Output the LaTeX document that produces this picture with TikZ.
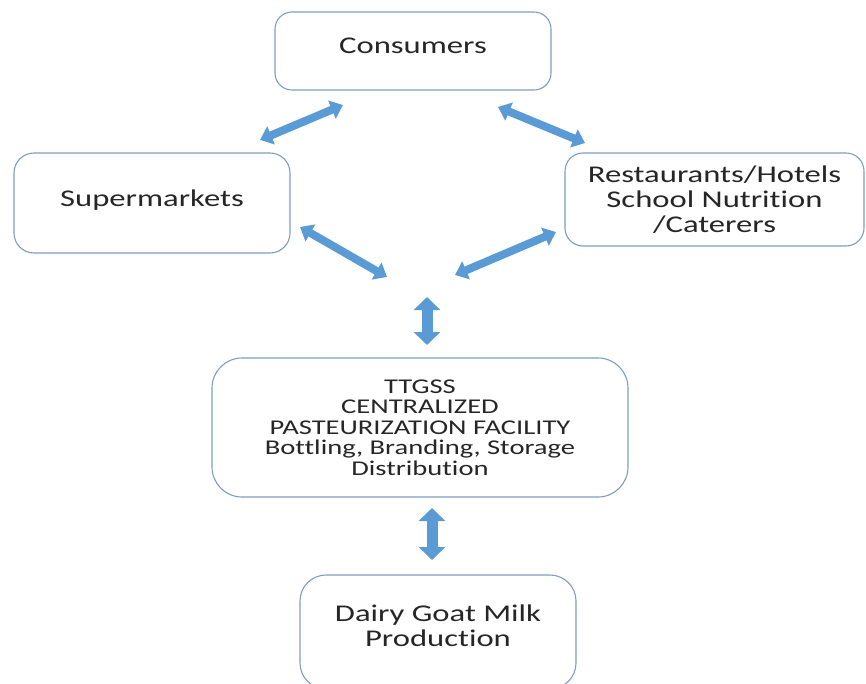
\documentclass[tikz,border=0pt]{standalone}
\usepackage{fontspec}
\setmainfont[FakeStretch=1.36,Ligatures={NoCommon}]{Carlito}
\usetikzlibrary{arrows.meta}
\definecolor{boxline}{HTML}{7F9CC6}
\definecolor{arrowblue}{HTML}{5B9BD5}
\definecolor{txt}{HTML}{262626}
\begin{document}
\begin{tikzpicture}[x=1pt,y=-1pt,
  box/.style={draw=boxline, line width=1.1pt, fill=white, text=txt, align=center, inner sep=0pt},
  big/.style={font=\fontsize{24}{25}\selectfont},
  small/.style={font=\fontsize{21}{20.5}\selectfont},
  dbl/.style={draw=arrowblue, line width=8pt,
    {Triangle[width=19pt,length=12pt]}-{Triangle[width=19pt,length=12pt]}},
  dblv/.style={draw=arrowblue, line width=11pt,
    {Triangle[width=26pt,length=13pt]}-{Triangle[width=26pt,length=13pt]}}]
\useasboundingbox (0,0) rectangle (866,684);

\node[box, big, rounded corners=17, minimum width=276, minimum height=78, text depth=10pt] (cons) at (413,51) {Consumers};
\node[box, big, rounded corners=20, minimum width=276, minimum height=100, text depth=10pt] (super) at (152,203) {Supermarkets};
\node[box, big, rounded corners=18, minimum width=299, minimum height=93] (rest) at (714.5,199.5) {Restaurants/Hotels\\School Nutrition\\/Caterers};
\node[box, small, rounded corners=30, minimum width=416, minimum height=139] (fac) at (420,427.5) {TTGSS\\CENTRALIZED\\PASTEURIZATION FACILITY\\Bottling, Branding, Storage\\Distribution};
\node[box, big, rounded corners=26, minimum width=276, minimum height=114, text depth=12pt] (dairy) at (438,632) {Dairy Goat Milk\\Production};

\coordinate (a1s) at (260,140); \coordinate (a1e) at (343,105);
\coordinate (a2s) at (498,107); \coordinate (a2e) at (585,143);
\coordinate (a3s) at (300,227); \coordinate (a3e) at (387,277);
\coordinate (a4s) at (455,275); \coordinate (a4e) at (556,232);
\coordinate (a5s) at (427,297); \coordinate (a5e) at (427,345);
\coordinate (a6s) at (432,508); \coordinate (a6e) at (432,560);

\draw[dbl] (a1s) -- (a1e);
\draw[dbl] (a2s) -- (a2e);
\draw[dbl] (a3s) -- (a3e);
\draw[dbl] (a4s) -- (a4e);
\draw[dblv] (a5s) -- (a5e);
\draw[dblv] (a6s) -- (a6e);
\end{tikzpicture}
\end{document}
